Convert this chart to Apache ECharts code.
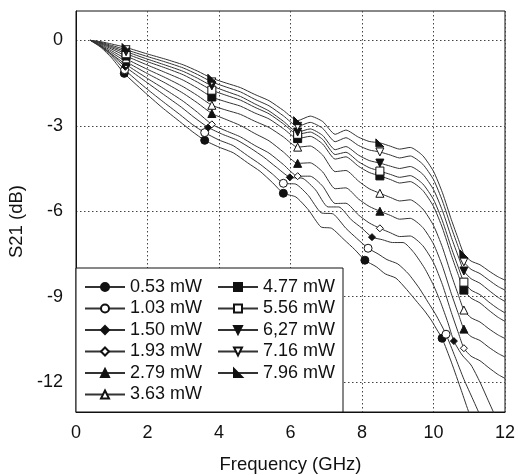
<!DOCTYPE html>
<html>
<head>
<meta charset="utf-8">
<script src="https://cdn.jsdelivr.net/npm/echarts@6/dist/echarts.min.js"></script>
<style>
    html, body { margin: 0; padding: 0; background: #fff; }
    #chart { width: 518px; height: 475px; }
</style>
</head>
<body>
<div id="chart"></div>
<script>
// frequency grid (GHz) shared by the upper curves
const freq = [0.4, 0.7, 1.0, 1.4, 2.0, 2.5, 3.0, 3.4, 3.8, 4.2, 4.6, 5.0, 5.4, 5.8, 6.2, 6.55, 6.9, 7.25, 7.55, 7.9,
    8.2, 8.5, 8.8, 9.05, 9.35, 9.7, 10.0, 10.25, 10.5, 10.7, 10.85, 11.05, 11.3, 11.55, 11.8, 12.0];
// the three lowest curves are sampled at their own frequencies
const freq150 = [0.4, 0.7, 1.0, 1.38, 1.95, 2.45, 2.95, 3.3, 3.7, 4.1, 4.5, 4.9, 5.25, 5.6, 5.98, 6.35, 6.7, 7.05, 7.35, 7.7,
    8.0, 8.28, 8.57, 8.85, 9.15, 9.45, 9.75, 10.0, 10.2, 10.4, 10.57, 10.8, 11.05, 11.3, 11.55, 11.8];
const freq103 = [0.4, 0.7, 1.0, 1.36, 1.9, 2.4, 2.9, 3.25, 3.6, 4.0, 4.4, 4.8, 5.15, 5.5, 5.8, 6.15, 6.5, 6.85, 7.2, 7.55,
    7.85, 8.17, 8.45, 8.7, 9.0, 9.3, 9.6, 9.85, 10.05, 10.2, 10.35, 10.6, 10.85, 11.1, 11.35, 11.6];
const freq053 = [0.4, 0.7, 1.0, 1.35, 1.9, 2.4, 2.9, 3.25, 3.6, 4.0, 4.4, 4.8, 5.15, 5.5, 5.8, 6.15, 6.5, 6.85, 7.15, 7.5,
    7.8, 8.08, 8.4, 8.65, 8.95, 9.25, 9.55, 9.75, 9.95, 10.1, 10.24, 10.5, 10.78, 11.0, 11.3, 11.6];

// S21 (dB)
const s796 = [0, -0.05, -0.13, -0.25, -0.48, -0.66, -0.86, -1.08, -1.33, -1.5, -1.66, -1.9, -2.12, -2.46, -2.82, -2.66, -2.85, -3.3, -3.15, -3.4,
    -3.55, -3.6, -3.72, -3.82, -3.76, -4.05, -4.6, -5.35, -6.3, -7.0, -7.5, -7.75, -7.88, -8.1, -8.3, -8.42];
const s716 = [0, -0.07, -0.18, -0.33, -0.57, -0.76, -0.97, -1.20, -1.46, -1.64, -1.81, -2.07, -2.30, -2.65, -3.02, -2.88, -3.09, -3.56, -3.42, -3.69,
    -3.85, -3.92, -4.03, -4.13, -4.06, -4.35, -4.89, -5.64, -6.58, -7.28, -7.78, -8.04, -8.19, -8.42, -8.64, -8.77];
const s627 = [0, -0.09, -0.22, -0.40, -0.66, -0.87, -1.09, -1.33, -1.60, -1.79, -1.97, -2.23, -2.48, -2.84, -3.22, -3.11, -3.34, -3.84, -3.73, -4.03,
    -4.22, -4.31, -4.42, -4.50, -4.43, -4.70, -5.24, -5.98, -6.92, -7.61, -8.10, -8.37, -8.53, -8.78, -9.02, -9.17];
const s556 = [0, -0.11, -0.26, -0.47, -0.75, -0.97, -1.21, -1.47, -1.75, -1.93, -2.10, -2.35, -2.58, -2.93, -3.30, -3.22, -3.48, -4.01, -3.93, -4.26,
    -4.47, -4.59, -4.71, -4.81, -4.75, -5.04, -5.59, -6.34, -7.29, -7.99, -8.49, -8.77, -8.93, -9.19, -9.42, -9.57];
const s477 = [0, -0.13, -0.31, -0.55, -0.87, -1.13, -1.40, -1.68, -1.99, -2.16, -2.31, -2.55, -2.76, -3.10, -3.45, -3.37, -3.64, -4.17, -4.09, -4.42,
    -4.64, -4.76, -4.89, -5.01, -4.96, -5.27, -5.83, -6.59, -7.55, -8.26, -8.77, -9.05, -9.22, -9.48, -9.72, -9.87];
const s363 = [0, -0.16, -0.37, -0.65, -1.02, -1.31, -1.63, -1.94, -2.28, -2.45, -2.60, -2.84, -3.06, -3.39, -3.75, -3.71, -4.03, -4.61, -4.57, -4.94,
    -5.21, -5.37, -5.52, -5.64, -5.60, -5.92, -6.50, -7.27, -8.24, -8.96, -9.47, -9.74, -9.89, -10.13, -10.34, -10.47];
const s279 = [0, -0.19, -0.43, -0.75, -1.17, -1.50, -1.86, -2.20, -2.57, -2.78, -2.99, -3.27, -3.53, -3.92, -4.32, -4.30, -4.62, -5.21, -5.18, -5.57,
    -5.83, -6.00, -6.15, -6.28, -6.25, -6.57, -7.15, -7.93, -8.90, -9.62, -10.14, -10.40, -10.54, -10.78, -10.99, -11.12];
const s193 = [0, -0.22, -0.49, -0.85, -1.34, -1.73, -2.14, -2.53, -2.95, -3.18, -3.39, -3.69, -3.96, -4.36, -4.77, -4.77, -5.12, -5.73, -5.72, -6.13,
    -6.41, -6.60, -6.76, -6.89, -6.87, -7.21, -7.80, -8.58, -9.56, -10.29, -10.81, -11.09, -11.25, -11.50, -11.73, -11.87];
const s150 = [0, -0.2, -0.5, -0.93, -1.45, -1.9, -2.35, -2.7, -3.06, -3.3, -3.5, -3.8, -4.1, -4.45, -4.81, -4.85, -5.25, -5.85, -5.85, -6.3,
    -6.6, -6.91, -7.0, -7.1, -7.1, -7.45, -8.0, -8.6, -9.2, -9.9, -10.56, -11.05, -11.4, -12.0, -12.7, -13.4];
const s103 = [0, -0.22, -0.55, -1.03, -1.62, -2.12, -2.6, -2.95, -3.24, -3.5, -3.7, -4.05, -4.35, -4.7, -5.02, -5.05, -5.45, -6.05, -6.1, -6.6,
    -6.95, -7.30, -7.5, -7.7, -7.85, -8.2, -8.7, -9.2, -9.6, -9.95, -10.32, -11.1, -11.9, -12.6, -13.3, -14.0];
const s053 = [0, -0.25, -0.62, -1.16, -1.8, -2.35, -2.85, -3.2, -3.51, -3.75, -3.95, -4.3, -4.6, -5.0, -5.37, -5.5, -5.95, -6.55, -6.6, -7.0,
    -7.35, -7.72, -7.95, -8.2, -8.35, -8.75, -9.2, -9.5, -9.85, -10.17, -10.46, -11.3, -12.3, -13.1, -14.0, -14.8];

// samples that carry a marker
const markerIdx = [3, 8, 14, 21, 30];
const powerNames = ["0.53 mW", "1.03 mW", "1.50 mW", "1.93 mW", "2.79 mW", "3.63 mW",
    "4.77 mW", "5.56 mW", "6,27 mW", "7.16 mW", "7.96 mW"];
const yTicks = [0, -3, -6, -9, -12];

(function() {
    let myChart = echarts.init(document.getElementById("chart"));
    const font = "Arial, 'Liberation Sans', sans-serif";
    const ink = "#111";
    const triDown = "path://M0,0L10,0L5,9Z";
    const triCorner = "path://M0,0L0,10L10,10Z";

    // x arrays, y arrays, symbol and fill for each power
    const curves = [
        [freq053, s053, "circle", true],
        [freq103, s103, "circle", false],
        [freq150, s150, "diamond", true],
        [freq, s193, "diamond", false],
        [freq, s279, "triangle", true],
        [freq, s363, "triangle", false],
        [freq, s477, "rect", true],
        [freq, s556, "rect", false],
        [freq, s627, triDown, true],
        [freq, s716, triDown, false],
        [freq, s796, triCorner, true]
    ];

    function buildData(xs, ys) {
        return ys.map(function(y, i) {
            let item = { value: [xs[i], y] };
            if (markerIdx.indexOf(i) < 0) item.symbol = "none";
            return item;
        });
    }

    let series = curves.map(function(c, k) {
        return {
            name: powerNames[k],
            type: "line",
            data: buildData(c[0], c[1]),
            smooth: 0.2,
            symbol: c[2],
            symbolSize: c[2] === "diamond" ? 7 : 8,
            showAllSymbol: true,
            clip: true,
            lineStyle: { color: "#333", width: 1 },
            itemStyle: {
                color: c[3] ? ink : "#fff",
                borderColor: ink,
                borderWidth: 1
            },
            emphasis: { disabled: true }
        };
    });

    let legendText = {
        fontSize: 18,
        lineHeight: 18,
        color: ink,
        fontFamily: font
    };

    let gridLine = { color: "#444", type: [1.5, 2.5], width: 1 };

    let option = {
        animation: false,
        grid: {
            left: 76,
            right: 13,
            top: 11,
            bottom: 63,
            show: true,
            borderColor: ink,
            borderWidth: 1,
            outerBoundsMode: "none"
        },
        xAxis: {
            type: "value",
            min: 0,
            max: 12,
            interval: 2,
            name: "Frequency (GHz)",
            nameLocation: "middle",
            nameGap: 43,
            nameTextStyle: { fontSize: 18.5, color: ink, fontFamily: font },
            axisLine: { onZero: false, lineStyle: { color: ink } },
            axisTick: { show: false },
            axisLabel: { fontSize: 18, color: ink, fontFamily: font, margin: 12 },
            splitLine: { lineStyle: gridLine }
        },
        yAxis: {
            type: "value",
            min: -13.05,
            max: 1.03,
            name: "S21 (dB)",
            nameLocation: "middle",
            nameGap: 43,
            nameTextStyle: { fontSize: 18.5, color: ink, fontFamily: font, padding: [0, 20, 0, 0] },
            axisLine: { show: true, onZero: false, lineStyle: { color: ink } },
            axisTick: { show: false, customValues: yTicks },
            axisLabel: { customValues: yTicks, fontSize: 18, color: ink, fontFamily: font, margin: 13 },
            splitLine: { show: true, lineStyle: gridLine }
        },
        graphic: [{
            type: "rect",
            z: 5,
            shape: { x: 76, y: 268, width: 267, height: 144 },
            style: { fill: "#fff", stroke: ink, lineWidth: 1 }
        }],
        legend: [{
            data: powerNames.slice(0, 6),
            orient: "vertical",
            left: 84,
            top: 278,
            itemGap: 3.5,
            itemWidth: 40,
            itemHeight: 10,
            padding: 0,
            z: 6,
            selectedMode: false,
            textStyle: legendText
        }, {
            data: powerNames.slice(6),
            orient: "vertical",
            left: 217,
            top: 278,
            itemGap: 3.5,
            itemWidth: 40,
            itemHeight: 10,
            padding: 0,
            z: 6,
            selectedMode: false,
            textStyle: legendText
        }],
        series: series
    };
    myChart.setOption(option);
    window.addEventListener("resize", function() {
        myChart.resize();
    });
})();
</script>
</body>
</html>
